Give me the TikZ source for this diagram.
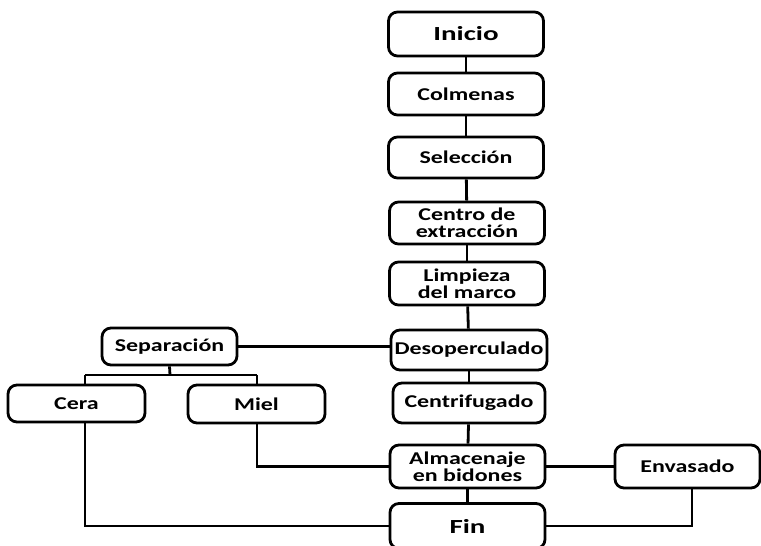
\documentclass[tikz,border=0pt]{standalone}
\usepackage{fontspec}
\newfontfamily\boxfont{Carlito}[FakeStretch=1.33]
\newfontfamily\bigfont{Carlito}[FakeStretch=1.45]
\begin{document}
\begin{tikzpicture}[x=1pt,y=-1pt,
  box/.style={draw=black, line width=2.8pt, rounded corners=9pt, fill=white,
    align=center, inner sep=0pt, font=\boxfont\bfseries\fontsize{18}{16.8}\selectfont},
  big/.style={font=\bigfont\bfseries\fontsize{20}{21}\selectfont},
  conn/.style={draw=black, line width=2.8pt}]
\useasboundingbox (0,0) rectangle (761,546);
% main column
\node[box, minimum width=155pt, minimum height=44pt, big] (ini) at (466,34) {Inicio};
\node[box, minimum width=155pt, minimum height=42pt] (col) at (466,94) {Colmenas};
\node[box, minimum width=155pt, minimum height=41pt] (sel) at (466,157.5) {Selección};
\node[box, minimum width=155pt, minimum height=42pt] (cen) at (467,223) {Centro de\\extracción};
\node[box, minimum width=155pt, minimum height=43pt] (lim) at (467,283.5) {Limpieza\\del marco};
\node[box, minimum width=156pt, minimum height=40pt] (des) at (469,350) {Desoperculado};
\node[box, minimum width=152pt, minimum height=40pt] (cef) at (469,403) {Centrifugado};
\node[box, minimum width=155pt, minimum height=43pt] (alm) at (467.5,466.5) {Almacenaje\\en bidones};
\node[box, minimum width=155pt, minimum height=45pt, big] (fin) at (467.5,526) {Fin};
% side boxes
\node[box, minimum width=145pt, minimum height=43pt] (env) at (687.5,466.5) {Envasado};
\node[box, minimum width=135pt, minimum height=37pt] (sep) at (169.5,346.5) {Separación};
\node[box, minimum width=137pt, minimum height=37pt] (cer) at (76.5,403.5) {Cera};
\node[box, minimum width=137pt, minimum height=38pt] (mie) at (256.5,404) {Miel};
% junctions
\coordinate (sj) at (170,375);
\coordinate (cj) at (85,375);
\coordinate (mj) at (257,375);
\coordinate (ej) at (692,490);
% connectors
\draw[conn] (ini) -- (col);
\draw[conn] (col) -- (sel);
\draw[conn] (sel) -- (cen);
\draw[conn] (cen) -- (lim);
\draw[conn] (lim) -- (des);
\draw[conn] (des) -- (cef);
\draw[conn] (cef) -- (alm);
\draw[conn] (alm) -- (fin);
\draw[conn] (sep.east) -- (sep.east -| des.west);
\draw[conn] (sep.south) -- (sj);
\draw[conn] (cj) -- (mj);
\draw[conn] (cj) -- (cj |- cer.north);
\draw[conn] (mj) -- (mj |- mie.north);
\draw[conn] (mj |- mie.south) |- (alm.west);
\draw[conn] (cj |- cer.south) |- (fin.west);
\draw[conn] (alm.east) -- (env.west);
\draw[conn] (ej |- env.south) |- (fin.east);
\end{tikzpicture}
\end{document}
